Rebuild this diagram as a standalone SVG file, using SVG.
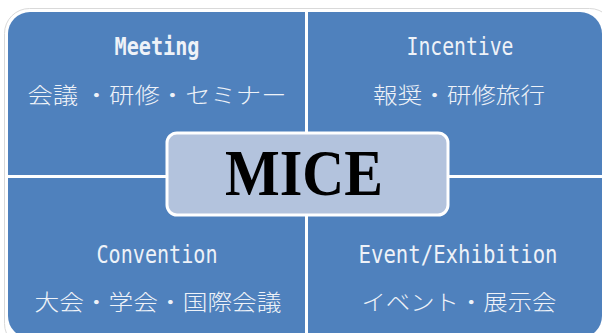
<svg xmlns="http://www.w3.org/2000/svg" width="602" height="333" viewBox="0 0 602 333">
<style>
.q{fill:#4f81bd}
.lat{font-family:"DejaVu Sans Mono","Liberation Mono",monospace;font-size:24px;fill:#eef2f8;text-anchor:middle}
.jp{font-family:"Noto Sans CJK JP","Noto Sans CJK SC",sans-serif;font-size:22px;font-weight:300;fill:#eef2f8;text-anchor:middle}
.mice{font-family:"Liberation Serif","Times New Roman",serif;font-size:66px;font-weight:bold;fill:#000;text-anchor:middle}
</style>
<rect width="602" height="333" fill="#ffffff"/>
<rect x="4.5" y="8.5" width="610" height="340" rx="25" fill="none" stroke="#d9d9d9" stroke-width="1"/>
<g id="meeting">
<path class="q" d="M8,34 A22,22 0 0 1 30,12 L305,12 L305,175 L8,175 Z"/>
<text class="lat" x="157" y="55" textLength="85" lengthAdjust="spacingAndGlyphs" style="font-weight:bold">Meeting</text>
<text class="jp" x="157" y="103" textLength="259" lengthAdjust="spacingAndGlyphs">会議 ・研修・セミナー</text>
</g>
<g id="incentive">
<path class="q" d="M308,12 L580,12 A22,22 0 0 1 602,34 L602,175 L308,175 Z"/>
<text class="lat" x="460" y="55" textLength="107" lengthAdjust="spacingAndGlyphs">Incentive</text>
<text class="jp" x="459" y="103" textLength="172" lengthAdjust="spacingAndGlyphs">報奨・研修旅行</text>
</g>
<g id="convention">
<path class="q" d="M8,178 L305,178 L305,338 L30,338 A22,22 0 0 1 8,316 Z"/>
<text class="lat" x="157" y="263" textLength="121" lengthAdjust="spacingAndGlyphs">Convention</text>
<text class="jp" x="158" y="310" textLength="247" lengthAdjust="spacingAndGlyphs">大会・学会・国際会議</text>
</g>
<g id="event">
<path class="q" d="M308,178 L602,178 L602,316 A22,22 0 0 1 580,338 L308,338 Z"/>
<text class="lat" x="458" y="263" textLength="199" lengthAdjust="spacingAndGlyphs">Event/Exhibition</text>
<text class="jp" x="459" y="310" textLength="195" lengthAdjust="spacingAndGlyphs">イベント・展示会</text>
</g>
<g id="connectors"></g>
<g id="mice">
<rect x="167" y="133" width="281" height="82" rx="10" fill="#b3c3dd" stroke="#ffffff" stroke-width="3"/>
<text class="mice" x="304" y="195" textLength="158" lengthAdjust="spacingAndGlyphs">MICE</text>
</g>
</svg>
